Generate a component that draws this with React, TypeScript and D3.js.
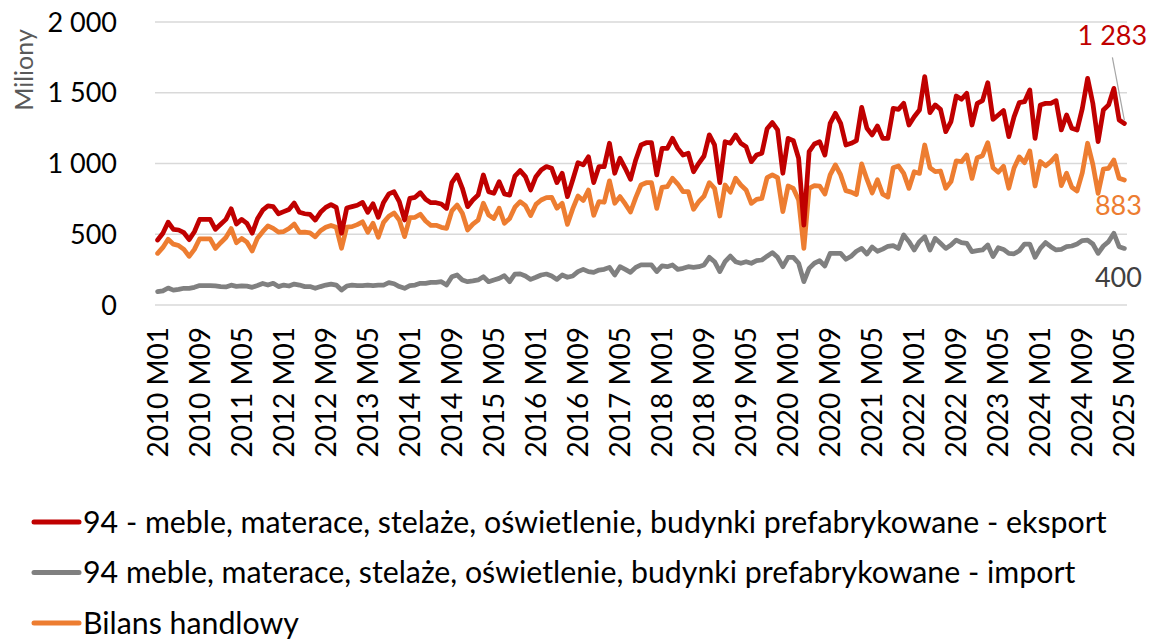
import React from 'react'
import * as d3 from 'd3'

// monthly categories 2010 M01 .. 2025 M05
const years = [2010, 2011, 2012, 2013, 2014, 2015, 2016, 2017, 2018, 2019, 2020, 2021, 2022, 2023, 2024, 2025]
const months = ['M01', 'M02', 'M03', 'M04', 'M05', 'M06', 'M07', 'M08', 'M09', 'M10', 'M11', 'M12']
const categories = years.flatMap(y => months.map(m => `${y} ${m}`)).slice(0, 185)

// 94 - eksport (mln)
const eksport = [
  459, 507, 585, 535, 530, 511, 462, 518, 605, 605, 605, 535,
  570, 605, 680, 572, 605, 577, 507, 610, 670, 700, 695, 645,
  660, 675, 720, 655, 645, 640, 600, 655, 690, 710, 690, 507,
  685, 695, 705, 725, 655, 715, 620, 725, 785, 800, 730, 601,
  754, 761, 794, 747, 723, 723, 714, 683, 865, 919, 825, 695,
  742, 777, 919, 801, 789, 872, 785, 777, 910, 950, 907, 813,
  907, 954, 978, 966, 865, 931, 766, 884, 1006, 990, 1048, 865,
  978, 978, 1143, 931, 1037, 966, 888, 1025, 1131, 1147, 1147, 919,
  1107, 1107, 1178, 1107, 1060, 1072, 942, 1001, 1053, 1202, 1131, 865,
  1154, 1143, 1202, 1143, 1119, 1013, 1060, 1072, 1245, 1289, 1237, 931,
  1178, 1161, 1037, 565, 1084, 1138, 1154, 1060, 1284, 1355, 1284, 1131,
  1143, 1161, 1397, 1249, 1202, 1265, 1178, 1178, 1390, 1383, 1425, 1272,
  1331, 1378, 1614, 1359, 1414, 1383, 1225, 1296, 1477, 1454, 1496, 1272,
  1425, 1444, 1571, 1312, 1343, 1374, 1190, 1330, 1430, 1437, 1520, 1178,
  1414, 1425, 1425, 1444, 1237, 1343, 1249, 1237, 1390, 1602, 1425, 1154,
  1378, 1414, 1531, 1308, 1283,
]

// 94 - import (mln)
const importData = [
  94, 100, 120, 105, 110, 118, 118, 125, 137, 137, 137, 135,
  130, 128, 140, 132, 135, 133, 125, 138, 152, 141, 153, 130,
  141, 134, 148, 141, 130, 130, 118, 130, 141, 148, 141, 106,
  134, 141, 137, 137, 141, 137, 141, 141, 158, 150, 130, 118,
  137, 141, 153, 153, 160, 160, 165, 141, 200, 212, 177, 165,
  170, 177, 200, 165, 177, 188, 207, 165, 219, 220, 205, 181,
  196, 212, 219, 205, 181, 212, 196, 205, 236, 252, 236, 231,
  247, 252, 266, 212, 271, 252, 231, 266, 283, 283, 283, 236,
  276, 271, 283, 252, 259, 271, 266, 271, 283, 337, 306, 236,
  306, 346, 306, 295, 306, 295, 313, 318, 345, 370, 337, 271,
  337, 337, 295, 165, 259, 295, 313, 276, 365, 365, 365, 323,
  345, 380, 400, 360, 410, 380, 395, 415, 420, 400, 495, 448,
  389, 448, 483, 389, 471, 436, 400, 424, 459, 441, 436, 377,
  384, 389, 424, 342, 405, 393, 365, 362, 383, 431, 431, 337,
  400, 441, 412, 389, 393, 412, 417, 431, 455, 459, 431, 365,
  417, 448, 507, 412, 400,
]

// Bilans handlowy (mln)
const bilans = [
  365, 407, 465, 430, 420, 393, 344, 393, 468, 468, 468, 400,
  440, 477, 540, 440, 470, 444, 382, 472, 518, 559, 542, 515,
  519, 541, 572, 514, 515, 510, 482, 525, 549, 562, 549, 401,
  551, 554, 568, 588, 514, 578, 479, 584, 627, 650, 600, 483,
  617, 620, 641, 594, 563, 563, 549, 542, 665, 707, 648, 530,
  572, 600, 719, 636, 612, 684, 578, 612, 691, 730, 702, 632,
  711, 742, 759, 761, 684, 719, 570, 679, 770, 738, 812, 634,
  731, 726, 877, 719, 766, 714, 657, 759, 848, 864, 864, 683,
  831, 836, 895, 855, 801, 801, 676, 730, 770, 865, 825, 629,
  848, 797, 896, 848, 813, 718, 747, 754, 900, 919, 900, 660,
  841, 824, 742, 400, 825, 843, 841, 784, 919, 990, 919, 808,
  798, 781, 997, 889, 792, 885, 783, 763, 970, 983, 930, 824,
  942, 930, 1131, 970, 943, 947, 825, 872, 1018, 1013, 1060, 895,
  1041, 1055, 1147, 970, 938, 981, 825, 968, 1047, 1006, 1089, 841,
  1014, 984, 1013, 1055, 844, 931, 832, 806, 935, 1143, 994, 789,
  961, 966, 1024, 896, 883,
]

const yTicks = [0, 500, 1000, 1500, 2000]

const seriesList = [
  { name: '94 - meble, materace, stelaże, oświetlenie, budynki prefabrykowane - eksport', values: eksport, color: '#C00000' },
  { name: '94 meble, materace, stelaże, oświetlenie, budynki prefabrykowane - import', values: importData, color: '#808080' },
  { name: 'Bilans handlowy', values: bilans, color: '#ED7D31' },
]

const pl = d3.formatLocale({ decimal: ',', thousands: ' ', grouping: [3], currency: ['', ' zł'] })
const fmt = pl.format(',')

const FONT = 'Lato, "Open Sans", sans-serif'

export default function App() {
  const width = 1150
  const height = 639
  const x = d3.scalePoint<string>().domain(categories).range([155, 1127]).padding(0.5)
  const y = d3.scaleLinear().domain([0, 2000]).range([305, 22])

  const line = d3.line<number>()
    .x((_, i) => x(categories[i]) as number)
    .y(d => y(d))

  const tickCats = categories.filter((_, i) => i % 8 === 0)
  const last = categories.length - 1
  const xLast = x(categories[last]) as number

  return (
    <svg width={width} height={height} style={{ position: 'absolute', left: 0, top: 0, background: '#fff' }} fontFamily={FONT}>
      {yTicks.map(t => (
        <g key={t}>
          <line x1={155} x2={1127} y1={y(t)} y2={y(t)} stroke="#D9D9D9" strokeWidth={1.3} />
          <text x={117} y={y(t)} dy="0.36em" textAnchor="end" fontSize={27} fill="#000">{fmt(t)}</text>
        </g>
      ))}
      <text transform="translate(33,70) rotate(-90)" textAnchor="middle" fontSize={25} fill="#595959">Miliony</text>

      {tickCats.map(c => (
        <text key={c} transform={`translate(${(x(c) as number) + 10},${327}) rotate(-90)`} textAnchor="end" fontSize={28} fill="#000">{c}</text>
      ))}

      {[seriesList[1], seriesList[2], seriesList[0]].map(s => (
        <path key={s.name} d={line(s.values) as string} fill="none" stroke={s.color} strokeWidth={4.75} strokeLinejoin="round" strokeLinecap="round" />
      ))}

      {/* data labels for the last point */}
      <line x1={xLast - 12} y1={y(eksport[last]) - 66} x2={xLast} y2={y(eksport[last]) - 3} stroke="#A6A6A6" strokeWidth={1.2} />
      <text x={xLast - 12} y={y(eksport[last]) - 78} textAnchor="middle" fontSize={27} fill="#C00000">{fmt(eksport[last])}</text>
      <text x={xLast - 6} y={y(bilans[last]) + 35} textAnchor="middle" fontSize={27} fill="#ED7D31">{fmt(bilans[last])}</text>
      <text x={xLast - 6} y={y(importData[last]) + 39} textAnchor="middle" fontSize={27} fill="#404040">{fmt(importData[last])}</text>

      {seriesList.map((s, i) => (
        <g key={s.name} transform={`translate(0,${522 + i * 50.5})`}>
          <line x1={34} x2={79} y1={0} y2={0} stroke={s.color} strokeWidth={5} strokeLinecap="round" />
          <text x={83} y={0} dy="0.36em" fontSize={30.3} fill="#000">{s.name}</text>
        </g>
      ))}
    </svg>
  )
}
